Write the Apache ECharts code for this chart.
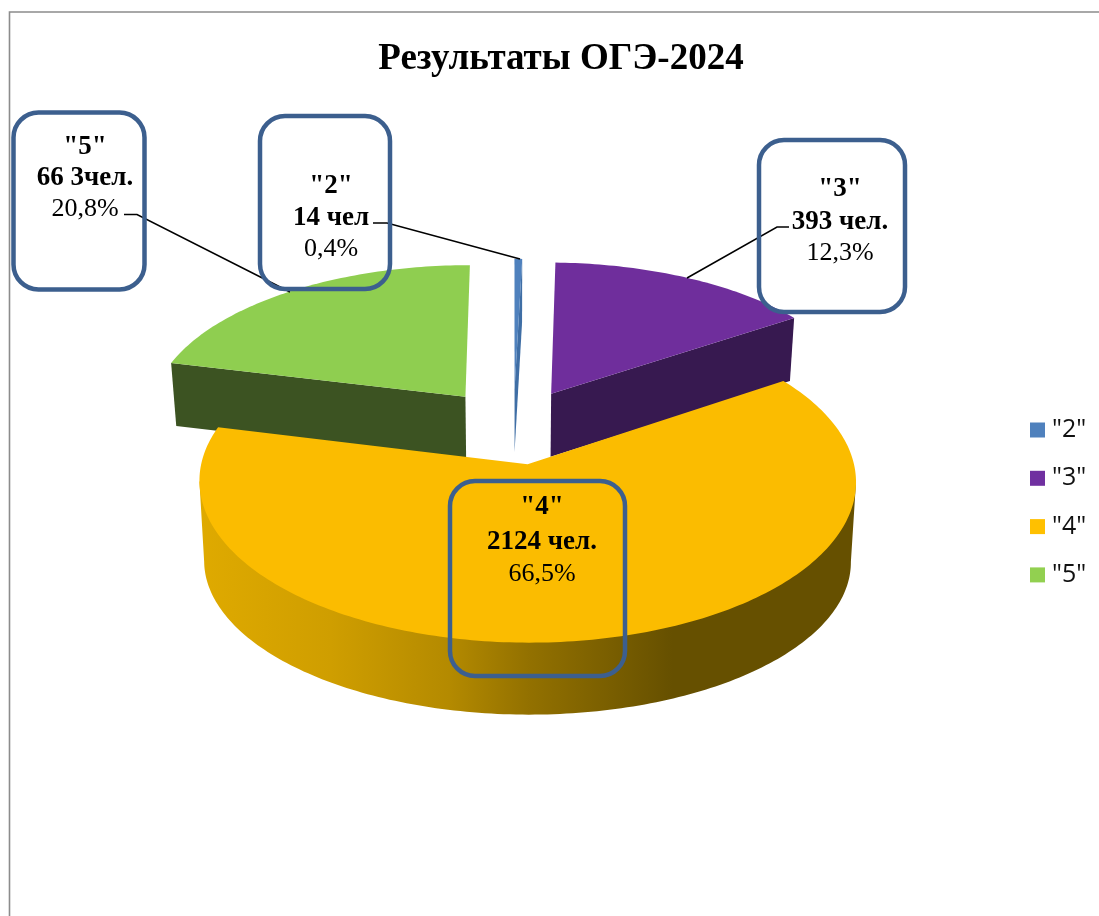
<!DOCTYPE html>
<html lang="ru">
<head>
<meta charset="utf-8">
<title>Результаты ОГЭ-2024</title>
<style>html,body{margin:0;padding:0;background:#fff}#chart{width:1099px;height:916px}</style>
<script src="https://cdn.jsdelivr.net/npm/echarts@6/dist/echarts.min.js"></script>
</head>
<body>
<div id="chart"></div>
<script>
// ---- data ----
const titleText = 'Результаты ОГЭ-2024';
const categories = ['"2"', '"3"', '"4"', '"5"'];
const people = [14, 393, 2124, 663];
const countLabels = ['14 чел', '393 чел.', '2124 чел.', '66 3чел.'];
const percentLabels = ['0,4%', '12,3%', '66,5%', '20,8%'];

// ---- colours ----
const topColors = ['#4f81bd', '#6f2e9c', '#fbbc00', '#8fce50'];
const legendColors = ['#4f81bd', '#7030a0', '#ffc000', '#92d050'];
const wallColors = ['#3f6ea5', '#371950', '#b08500', '#3c5322'];
const calloutColor = '#3c5f8e';

// ---- layout of the tilted disc (perspective projection) ----
const originX = 513.5, originY = 426;   // screen position of the disc centre
const scaleX = 318, scaleY = 151.2;     // size of the unit disc at its centre
const perspective = 0.1045;             // how much nearer parts grow
const wallDepth = 63;                   // thickness shown on the flat radial walls
const rimDepthBase = 83.2, rimDepthFall = 9; // thickness shown on the curved outer wall
const bottomShrink = 0.985;             // the lower plane is further from the eye
const explode = 0.25;                   // slice explosion
// The original drawing widens the purple slice beyond its label: boundary nudges, degrees
const boundaryNudge = [0, 0, 10.5, -1.5, 0];
const seriesZ = [3, 2, 4, 2];
// which radial walls [start, end] face the viewer; which outer walls face the viewer
const visibleWalls = [[false, true], [false, true], [false, false], [true, false]];
const visibleRim = [false, false, true, false];

const total = people.reduce((a, b) => a + b, 0);
const boundaries = [0];
people.forEach((v, i) => boundaries.push(boundaries[i] + v / total * 360));
const drawBoundaries = boundaries.map((b, i) => b + boundaryNudge[i]);

function projectTop(u, v) {
  const s = 1 / (1 - perspective * v);
  return [originX + scaleX * u * s, originY + scaleY * v * s];
}
function projectLower(u, v, drop) {
  const p = projectTop(u, v);
  return [originX + (p[0] - originX) * bottomShrink, p[1] + drop];
}
function sliceGeometry(i) {
  const a0 = drawBoundaries[i] * Math.PI / 180;
  const a1 = drawBoundaries[i + 1] * Math.PI / 180;
  const mid = (a0 + a1) / 2;
  const cu = Math.sin(mid) * explode, cv = -Math.cos(mid) * explode;
  const steps = Math.max(4, Math.ceil((a1 - a0) / (Math.PI / 180)));
  const rim = [];
  for (let s = 0; s <= steps; s++) {
    const a = a0 + (a1 - a0) * s / steps;
    rim.push([cu + Math.sin(a), cv - Math.cos(a)]);
  }
  return { apex: [cu, cv], rim };
}
function poly(points, fill) {
  return { type: 'polygon', shape: { points }, style: { fill }, silent: true };
}
const rimGradient = {
  type: 'linear', x: 0, y: 0, x2: 1, y2: 0,
  colorStops: [
    { offset: 0, color: '#dfaa00' }, { offset: 0.2, color: '#cf9e00' },
    { offset: 0.38, color: '#b48a00' }, { offset: 0.5, color: '#937100' },
    { offset: 0.72, color: '#665000' }, { offset: 1, color: '#665000' }
  ]
};
// Silhouette of the outer wall: from the widest points of the top face, straight
// down to the widest points of the lower face, and round the front of that face.
function rimWall(rimTop, rimLow) {
  const extreme = (pts, sign) => pts.reduce((best, p, k) => (sign * p[0] > sign * pts[best][0] ? k : best), 0);
  const lowArc = rimLow.slice(extreme(rimLow, 1), extreme(rimLow, -1) + 1);
  return [rimTop[extreme(rimTop, 1)]].concat(lowArc, [rimTop[extreme(rimTop, -1)]]);
}
function makeRender(i) {
  return function () {
    const g = sliceGeometry(i);
    const up = p => projectTop(p[0], p[1]);
    const lowWall = p => projectLower(p[0], p[1], wallDepth);
    const lowRim = p => projectLower(p[0], p[1], rimDepthBase - rimDepthFall * p[1]);
    const rimTop = g.rim.map(up);
    const first = g.rim[0], last = g.rim[g.rim.length - 1];
    const children = [];
    if (visibleRim[i]) children.push(poly(rimWall(rimTop, g.rim.map(lowRim)), rimGradient));
    if (visibleWalls[i][0]) children.push(poly([up(g.apex), up(first), lowWall(first), lowWall(g.apex)], wallColors[i]));
    if (visibleWalls[i][1]) children.push(poly([up(g.apex), up(last), lowWall(last), lowWall(g.apex)], wallColors[i]));
    children.push(poly([up(g.apex)].concat(rimTop), topColors[i]));
    return { type: 'group', children };
  };
}

// ---- annotation layout ----
const calloutBoxes = [
  { x: 260, y: 116, w: 130, h: 173 },
  { x: 759, y: 140, w: 146, h: 172 },
  { x: 450, y: 481, w: 175, h: 195 },
  { x: 13.5, y: 112.5, w: 131, h: 177 }
];
const calloutTextX = [331, 840, 542, 85];
const calloutTextY = [[186, 218, 249], [189, 222, 253], [507, 542, 574], [147, 178, 209]];
const leaders = [
  [[373, 223], [387, 223], [520, 259]],
  [[789, 227], [777, 227], [687, 278]],
  [[124, 214.5], [137, 214.5], [290, 292]]
];

const graphics = [
  { type: 'polyline', shape: { points: [[9.5, 916], [9.5, 12], [1099, 12]] },
    style: { stroke: '#8c8c8c', lineWidth: 1.6, fill: null }, z: 1 },
  { type: 'text', x: 561, y: 59, style: { text: titleText, fill: '#000',
      font: 'bold 37px "Liberation Serif"', align: 'center', verticalAlign: 'middle' }, z: 100 }
];
leaders.forEach(pts => graphics.push({ type: 'polyline', shape: { points: pts },
  style: { stroke: '#000', lineWidth: 1.5, fill: null }, z: 90 }));
categories.forEach((c, i) => {
  const b = calloutBoxes[i];
  graphics.push({ type: 'rect', shape: { x: b.x, y: b.y, width: b.w, height: b.h, r: 25 },
    style: { fill: null, stroke: calloutColor, lineWidth: 4.5 }, z: 95 });
  [c, countLabels[i], percentLabels[i]].forEach((t, j) => {
    graphics.push({ type: 'text', x: calloutTextX[i], y: calloutTextY[i][j],
      style: { text: t, fill: '#000', align: 'center', verticalAlign: 'middle',
        font: (j < 2 ? 'bold 27px' : '26px') + ' "Liberation Serif"' }, z: 100 });
  });
});

const chart = echarts.init(document.getElementById('chart'), null, { renderer: 'canvas' });
chart.setOption({
  animation: false,
  backgroundColor: '#fff',
  legend: {
    data: categories,
    orient: 'vertical',
    left: 1030,
    top: 417.5,
    padding: 0,
    itemWidth: 15,
    itemHeight: 15,
    itemGap: 23.3,
    icon: 'rect',
    selectedMode: false,
    textStyle: { fontFamily: '"Open Sans"', fontSize: 25, color: '#111', lineHeight: 24, padding: [0, 0, 0, 2] }
  },
  series: categories.map((name, i) => ({
    type: 'custom',
    name,
    coordinateSystem: 'none',
    z: seriesZ[i],
    silent: true,
    itemStyle: { color: legendColors[i] },
    renderItem: makeRender(i),
    data: [[people[i]]]
  })),
  graphic: { elements: graphics }
});
</script>
</body>
</html>
